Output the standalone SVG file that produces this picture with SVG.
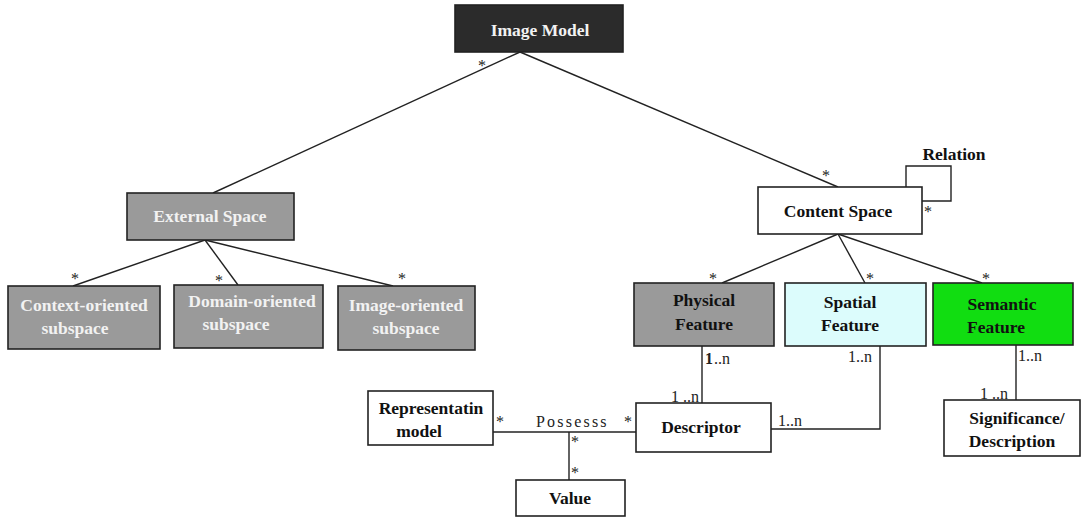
<svg xmlns="http://www.w3.org/2000/svg" width="1083" height="517" viewBox="0 0 1083 517">
<style>
.box{stroke:#222;stroke-width:1.6}
.t{font-family:'Liberation Serif','DejaVu Serif',serif;font-weight:bold;font-size:17.5px;text-anchor:middle}
.w{fill:#f2f2f2}
.k{fill:#111}
.m{font-family:'Liberation Serif','DejaVu Serif',serif;font-size:16px;fill:#222}
.c{fill:none;stroke:#222;stroke-width:1.4}
</style>
<rect width="1083" height="517" fill="#fff"/>
<g id="connectors">
<path class="c" d="M520 52 L213 193"/>
<path class="c" d="M520 52 L838 187"/>
<path class="c" d="M205 240 L73 286"/>
<path class="c" d="M205 240 L238 285"/>
<path class="c" d="M205 240 L393 286"/>
<path class="c" d="M906 187 L906 166 L951 166 L951 201 L922 201"/>
<path class="c" d="M838 234 L722 283"/>
<path class="c" d="M838 234 L865 283"/>
<path class="c" d="M838 234 L982 283"/>
<path class="c" d="M702 346 L702 403"/>
<path class="c" d="M880 346 L880 429 L771 429"/>
<path class="c" d="M1016 345 L1016 400"/>
<path class="c" d="M493 432 L636 432"/>
<path class="c" d="M569 432 L569 480"/>
<text class="m" x="478" y="71">*</text>
<text class="m" x="822" y="181">*</text>
<text class="m" x="924" y="217">*</text>
<text class="m" x="71" y="284">*</text>
<text class="m" x="215" y="286">*</text>
<text class="m" x="398" y="284">*</text>
<text class="m" x="709" y="284">*</text>
<text class="m" x="866" y="284">*</text>
<text class="m" x="982" y="284">*</text>
<text class="m" x="705" y="364" font-weight="bold">1</text>
<text class="m" x="714" y="364">..n</text>
<text class="m" x="671" y="402">1 ..n</text>
<text class="m" x="848" y="362">1..n</text>
<text class="m" x="778" y="426">1..n</text>
<text class="m" x="1018" y="361">1..n</text>
<text class="m" x="980" y="399">1 ..n</text>
<text class="m" x="496" y="427">*</text>
<text class="m" x="624" y="427">*</text>
<text class="m" x="536" y="427" letter-spacing="2.2">Possesss</text>
<text class="m" x="571" y="447">*</text>
<text class="m" x="571" y="478">*</text>
<text class="t k" x="954" y="160">Relation</text>
</g>
<g id="image-model"><rect class="box" x="455" y="5" width="168" height="47" fill="#2b2b2b"/><text class="t w" x="540" y="36" font-size="22">Image Model</text></g>
<g id="external-space"><rect class="box" x="127" y="193" width="167" height="47" fill="#9a9a9a"/><text class="t w" x="210" y="222">External Space</text></g>
<g id="context-oriented"><rect class="box" x="8" y="286" width="152" height="63" fill="#9a9a9a"/><text class="t w" x="84" y="311">Context-oriented</text><text class="t w" x="75" y="334">subspace</text></g>
<g id="domain-oriented"><rect class="box" x="174" y="285" width="149" height="63" fill="#9a9a9a"/><text class="t w" x="252" y="307">Domain-oriented</text><text class="t w" x="236" y="330">subspace</text></g>
<g id="image-oriented"><rect class="box" x="338" y="286" width="137" height="64" fill="#9a9a9a"/><text class="t w" x="406" y="311">Image-oriented</text><text class="t w" x="406" y="334">subspace</text></g>
<g id="content-space"><rect class="box" x="758" y="187" width="164" height="47" fill="#fff"/><text class="t k" x="838" y="217">Content Space</text></g>
<g id="physical-feature"><rect class="box" x="634" y="283" width="140" height="63" fill="#9a9a9a"/><text class="t k" x="704" y="306">Physical</text><text class="t k" x="704" y="330">Feature</text></g>
<g id="spatial-feature"><rect class="box" x="785" y="283" width="141" height="63" fill="#dcfcfc"/><text class="t k" x="850" y="308">Spatial</text><text class="t k" x="850" y="331">Feature</text></g>
<g id="semantic-feature"><rect class="box" x="933" y="283" width="140" height="62" fill="#11dd11"/><text class="t k" x="1002" y="310">Semantic</text><text class="t k" x="996" y="333">Feature</text></g>
<g id="descriptor"><rect class="box" x="636" y="403" width="135" height="49" fill="#fff"/><text class="t k" x="701" y="433">Descriptor</text></g>
<g id="significance"><rect class="box" x="944" y="400" width="136" height="56" fill="#fff"/><text class="t k" x="1017" y="424">Significance/</text><text class="t k" x="1012" y="447">Description</text></g>
<g id="representation-model"><rect class="box" x="368" y="391" width="125" height="54" fill="#fff"/><text class="t k" x="431" y="414">Representatin</text><text class="t k" x="419" y="437">model</text></g>
<g id="value"><rect class="box" x="516" y="480" width="109" height="36" fill="#fff"/><text class="t k" x="570" y="504">Value</text></g>
</svg>
